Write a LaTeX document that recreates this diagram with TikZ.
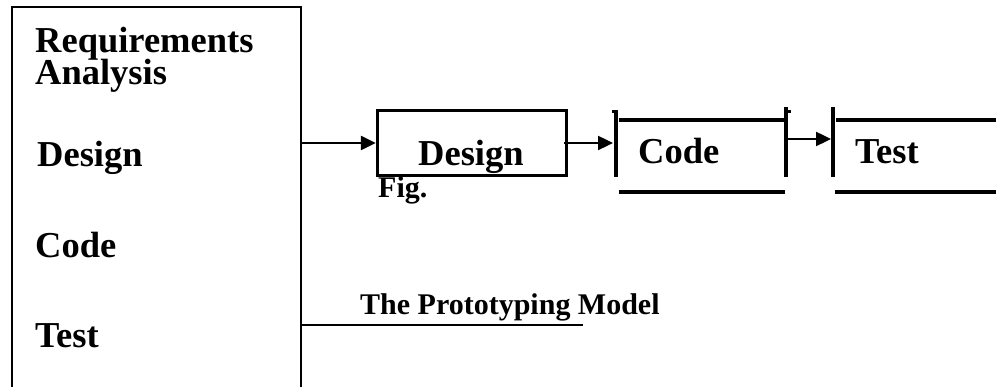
\documentclass[tikz,border=0pt]{standalone}
\usepackage{fontspec}
\setmainfont{Liberation Serif}
\usetikzlibrary{arrows.meta}
\begin{document}
\begin{tikzpicture}[x=1pt,y=-1pt,
  label/.style={anchor=base west,inner sep=0pt,font=\fontsize{36.5}{40}\selectfont\bfseries},
  caption/.style={anchor=base west,inner sep=0pt,font=\fontsize{30}{34}\selectfont\bfseries},
  frame/.style={line width=2.2pt},
  stage/.style={line width=3.4pt},
  flow/.style={line width=2.4pt,-{Triangle[length=15pt,width=14pt]}}]
\useasboundingbox (0,0) rectangle (996,387);

% open-bottom outline holding the phases
\coordinate (bl) at (12,392);
\coordinate (tl) at (12,7);
\coordinate (tr) at (301,7);
\coordinate (br) at (301,392);
\draw[frame] (bl) -- (tl) -- (tr) -- (br);

\node[label] (req) at (35,53) {Requirements};
\node[label] (ana) at (35,85) {Analysis};
\node[label] (ldes) at (37,167) {Design};
\node[label] (lcode) at (35,258) {Code};
\node[label] (ltest) at (35,347) {Test};

% design stage box
\node[stage,draw,rectangle,minimum width=189pt,minimum height=65pt,inner sep=0pt] (design) at (472,143) {};
\node[label] (dtext) at (418,166) {Design};
\node[caption] (fig) at (378,198) {Fig.};

% code stage
\coordinate (cl1) at (616,110);
\coordinate (cl2) at (616,177);
\coordinate (ct1) at (619,120);
\coordinate (ct2) at (785,120);
\coordinate (cr1) at (786,107);
\coordinate (cr2) at (786,177);
\coordinate (cb1) at (619,192);
\coordinate (cb2) at (785,192);
\draw[stage] (cl1) -- (cl2);
\draw[stage] (ct1) -- (ct2);
\draw[stage] (cr1) -- (cr2);
\draw[stage] (cb1) -- (cb2);
\fill (612,110) rectangle (615,113);
\fill (788,110) rectangle (791,113);
\node[label] (ctext) at (638,164) {Code};

% test stage
\coordinate (tl1) at (833,107);
\coordinate (tl2) at (833,177);
\coordinate (tt1) at (836,120);
\coordinate (tt2) at (996,120);
\coordinate (tb1) at (835,192);
\coordinate (tb2) at (996,192);
\draw[stage] (tl1) -- (tl2);
\draw[stage] (tt1) -- (tt2);
\draw[stage] (tb1) -- (tb2);
\node[label] (ttext) at (855,164) {Test};

% connectors
\coordinate (a1s) at (301,143);
\coordinate (a2s) at (564,143);
\coordinate (a2e) at (613,143);
\coordinate (a3s) at (786,139);
\coordinate (a3e) at (831,139);
\draw[flow] (a1s) -- (design.west);
\draw[flow] (a2s) -- (a2e);
\draw[flow] (a3s) -- (a3e);

% caption with underline
\node[caption] (title) at (360,315) {The Prototyping Model};
\coordinate (u1) at (301,325);
\coordinate (u2) at (583,325);
\draw[frame] (u1) -- (u2);
\end{tikzpicture}
\end{document}
